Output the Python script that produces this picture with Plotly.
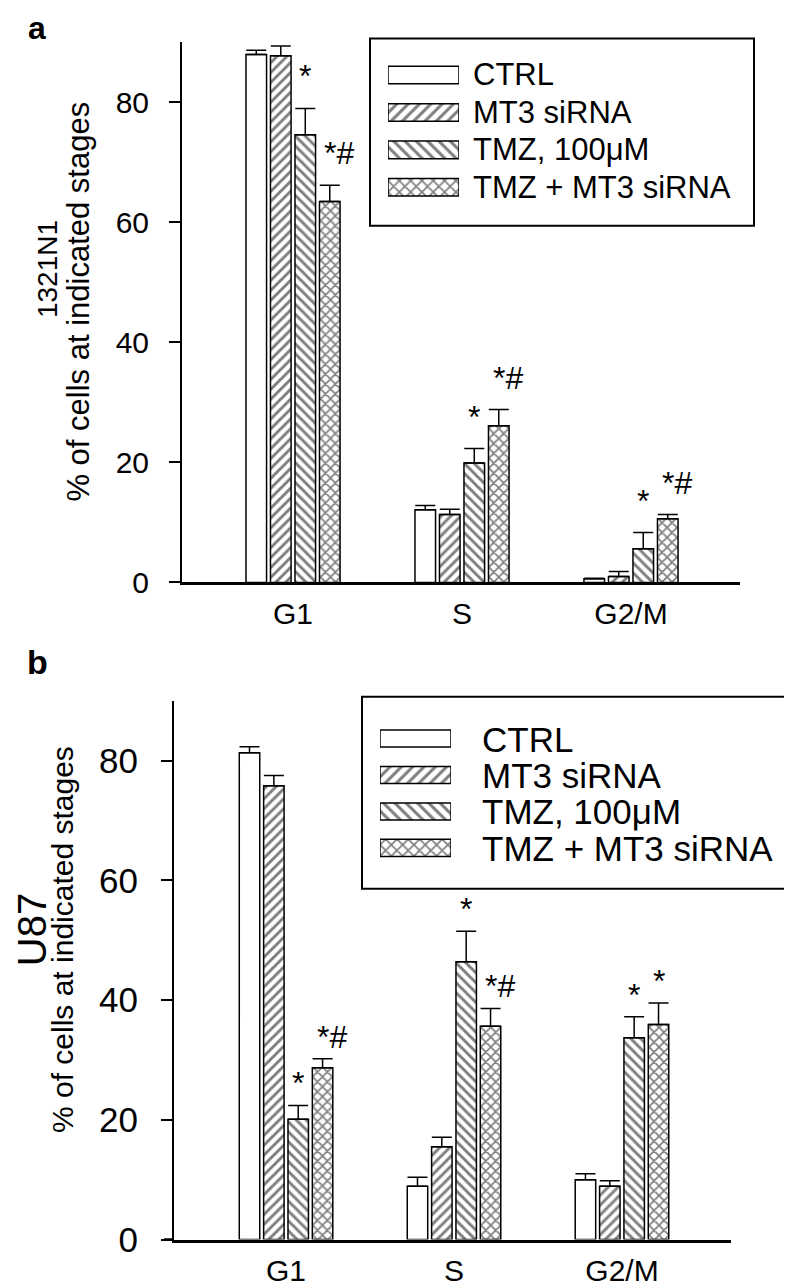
import plotly.graph_objects as go

# ---------------- data ----------------
phases = ["G1", "S", "G2/M"]
groups = ["CTRL", "MT3 siRNA", "TMZ, 100μM", "TMZ + MT3 siRNA"]
patterns = ["", "/", "\\", "x"]

# panel a : 1321N1
a_ctrl = [88.0, 12.1, 0.6]
a_ctrl_err = [0.7, 0.7, 0.1]
a_mt3 = [87.8, 11.3, 1.0]
a_mt3_err = [1.6, 0.9, 0.8]
a_tmz = [74.6, 19.9, 5.6]
a_tmz_err = [4.4, 2.4, 2.7]
a_combo = [63.5, 26.1, 10.6]
a_combo_err = [2.7, 2.7, 0.7]
a_tmz_marks = ["*", "*", "*"]
a_combo_marks = ["*#", "*#", "*#"]

# panel b : U87
b_ctrl = [81.3, 8.9, 10.0]
b_ctrl_err = [1.0, 1.5, 1.0]
b_mt3 = [75.8, 15.5, 8.9]
b_mt3_err = [1.7, 1.6, 0.9]
b_tmz = [20.1, 46.4, 33.7]
b_tmz_err = [2.3, 5.1, 3.5]
b_combo = [28.7, 35.6, 35.9]
b_combo_err = [1.5, 3.0, 3.6]
b_tmz_marks = ["*", "*", "*"]
b_combo_marks = ["*#", "*#", "*"]

yticks = [0, 20, 40, 60, 80]

# ---------------- layout helpers ----------------
W, H = 792, 1287
FONT = "Liberation Sans, Arial, sans-serif"
px = lambda v: v / W
py = lambda v: 1 - v / H

xpos = list(range(len(phases)))
fig = go.Figure()

panels = [
    dict(vals=[a_ctrl, a_mt3, a_tmz, a_combo],
         errs=[a_ctrl_err, a_mt3_err, a_tmz_err, a_combo_err],
         marks=[None, None, a_tmz_marks, a_combo_marks],
         xa="x", ya="y", mshift=12),
    dict(vals=[b_ctrl, b_mt3, b_tmz, b_combo],
         errs=[b_ctrl_err, b_mt3_err, b_tmz_err, b_combo_err],
         marks=[None, None, b_tmz_marks, b_combo_marks],
         xa="x2", ya="y2", mshift=2),
]

BARGAP = 0.42
BARGROUPGAP = 0.16
slot = (1 - BARGAP) / len(groups)
annotations = []

for p in panels:
    for gi, (g, vals, errs, pat) in enumerate(zip(groups, p["vals"], p["errs"], patterns)):
        fig.add_trace(go.Bar(
            x=xpos, y=vals, name=g, showlegend=False,
            xaxis=p["xa"], yaxis=p["ya"],
            marker=dict(color="white", line=dict(color="black", width=1.5),
                        pattern=dict(shape=pat, size=7, solidity=0.42,
                                     fgcolor="black", bgcolor="white")),
            error_y=dict(type="data", symmetric=False, array=errs,
                         arrayminus=[0] * len(errs), color="black",
                         thickness=1.5, width=10),
        ))
        marks = p["marks"][gi]
        if marks:
            for i, m in enumerate(marks):
                off = (gi - (len(groups) - 1) / 2) * slot
                annotations.append(dict(
                    x=xpos[i] + off, y=vals[i] + errs[i], xref=p["xa"], yref=p["ya"],
                    text=m, showarrow=False, xanchor="center", yanchor="bottom",
                    xshift=9 if len(m) > 1 else 0, yshift=p["mshift"],
                    font=dict(family=FONT, size=32, color="black")))

# ---------------- legend swatches (custom, large) ----------------
legend_specs = [
    dict(xa="x3", ya="y3", sw=(380, 451), rows=(49, 201), box=(362, 746, 31, 221),
         tx=463, rowy=[68, 106, 144, 182], fs=31),
    dict(xa="x4", ya="y4", sw=(372, 443), rows=(723, 871), box=(354, 789, 699, 894),
         tx=472, rowy=[742, 779, 816, 853], fs=35),
]
for L in legend_specs:
    fig.add_trace(go.Bar(
        x=[1] * len(groups), y=list(range(len(groups))), orientation="h",
        width=0.47, showlegend=False, hoverinfo="skip",
        xaxis=L["xa"], yaxis=L["ya"],
        marker=dict(color="white", line=dict(color="black", width=1.5),
                    pattern=dict(shape=patterns, size=8, solidity=0.38,
                                 fgcolor="black", bgcolor="white")),
    ))
    for g, ry in zip(groups, L["rowy"]):
        annotations.append(dict(x=px(L["tx"]), y=py(ry), xref="paper", yref="paper",
                                text=g, showarrow=False, xanchor="left", yanchor="middle",
                                font=dict(family=FONT, size=L["fs"], color="black")))

# ---------------- titles / panel labels ----------------
def rot(text, cx, cy, size):
    return dict(x=px(cx), y=py(cy), xref="paper", yref="paper", text=text,
                showarrow=False, textangle=-90, xanchor="center", yanchor="middle",
                font=dict(family=FONT, size=size, color="black"))

annotations += [
    dict(x=px(18), y=py(0), xref="paper", yref="paper", text="<b>a</b>", showarrow=False,
         xanchor="left", yanchor="top", font=dict(family=FONT, size=32, color="black")),
    dict(x=px(17), y=py(642), xref="paper", yref="paper", text="<b>b</b>", showarrow=False,
         xanchor="left", yanchor="top", font=dict(family=FONT, size=34, color="black")),
    rot("1321N1", 39, 265, 28),
    rot("% of cells at indicated stages", 71, 298, 31),
    rot("U87", 24, 936, 40),
    rot("% of cells at indicated stages", 54, 946, 30),
]

shapes = []
for L in legend_specs:
    x0, x1, y0, y1 = L["box"]
    shapes.append(dict(type="rect", xref="paper", yref="paper", x0=px(x0), x1=px(x1),
                       y0=py(y1), y1=py(y0), line=dict(color="black", width=2)))
# short extension of the x axis line to the left of the y axis
shapes.append(dict(type="line", xref="x domain", yref="y", x0=-0.018, x1=0, y0=0, y1=0,
                   line=dict(color="black", width=2.5)))
shapes.append(dict(type="line", xref="x2 domain", yref="y2", x0=-0.018, x1=0, y0=0, y1=0,
                   line=dict(color="black", width=2.5)))

xcommon = dict(tickvals=xpos, ticktext=phases, showline=True, linecolor="black",
               linewidth=2.5, ticks="", showgrid=False, zeroline=False,
               tickfont=dict(family=FONT, size=30, color="black"), ticklabelstandoff=3)

def ycommon(size, standoff):
    return dict(range=[0, 90], tickvals=yticks, showline=True, linecolor="black",
                linewidth=2, ticks="outside", ticklen=11, tickwidth=2, tickcolor="black",
                showgrid=False, zeroline=False,
                tickfont=dict(family=FONT, size=size, color="black"),
                ticklabelstandoff=standoff)

hidden = dict(visible=False, showgrid=False, zeroline=False, fixedrange=True)

fig.update_layout(
    width=W, height=H, margin=dict(l=0, r=0, t=0, b=0),
    paper_bgcolor="white", plot_bgcolor="rgba(0,0,0,0)",
    barmode="group", bargap=BARGAP, bargroupgap=BARGROUPGAP,
    showlegend=False,
    font=dict(family=FONT, color="black"),
    xaxis=dict(domain=[px(174), px(732)], range=[-0.657, 2.645], anchor="y", **xcommon),
    yaxis=dict(domain=[py(583), py(35)], anchor="x", **ycommon(30, 14)),
    xaxis2=dict(domain=[px(166), px(723)], range=[-0.667, 2.649], anchor="y2", **xcommon),
    yaxis2=dict(domain=[py(1250), py(703)], anchor="x2", **ycommon(35, 16)),
    xaxis3=dict(domain=[px(380), px(451)], range=[0, 1], anchor="y3", **hidden),
    yaxis3=dict(domain=[py(201), py(49)], range=[3.5, -0.5], anchor="x3", **hidden),
    xaxis4=dict(domain=[px(372), px(443)], range=[0, 1], anchor="y4", **hidden),
    yaxis4=dict(domain=[py(871), py(723)], range=[3.5, -0.5], anchor="x4", **hidden),
    annotations=annotations, shapes=shapes,
)

fig.write_html("out.html")
